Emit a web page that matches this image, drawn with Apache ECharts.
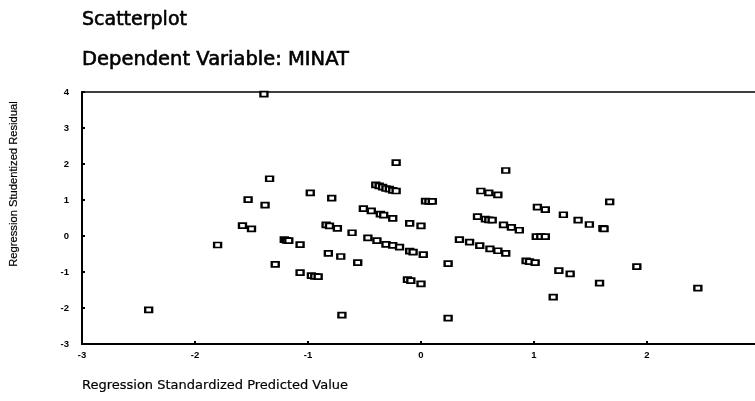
<!DOCTYPE html>
<html>
<head>
<meta charset="utf-8">
<script src="https://cdn.jsdelivr.net/npm/echarts@6/dist/echarts.min.js"></script>
<style>html,body{margin:0;padding:0;background:#fff;}#c{width:755px;height:401px;}</style>
</head>
<body>
<div id="c"></div>
<script>
var titleText = "Scatterplot";
var subtitleText = "Dependent Variable: MINAT";
var xAxisName = "Regression Standardized Predicted Value";
var yAxisName = "Regression Studentized Residual";
var xTicks = [-3, -2, -1, 0, 1, 2, 3];
var yTicks = [-3, -2, -1, 0, 1, 2, 3, 4];

var xValues = [
 -1.39,-1.34,-0.98,-1.53,-1.38,-1.58,-1.50,-1.80,-1.21,-1.19,-1.17,-1.07,-1.29,-1.07,-2.41,
 -0.22,-0.40,-0.37,-0.34,-0.31,-0.28,-0.25,-0.22,0.04,0.07,0.10,
 -0.79,-0.51,-0.44,-0.36,-0.33,-0.25,-0.10,0.00,-0.84,-0.81,-0.74,-0.61,
 -0.47,-0.39,-0.31,-0.25,-0.19,-0.10,-0.07,0.02,-0.82,-0.71,-0.56,
 -0.97,-0.94,-0.91,-0.12,-0.09,0.00,-0.70,0.24,0.24,
 0.75,0.53,0.60,0.68,1.03,1.10,1.26,1.39,1.49,1.61,1.62,1.67,
 0.50,0.57,0.60,0.63,0.73,0.80,0.87,1.02,1.06,1.10,
 0.34,0.43,0.52,0.61,0.68,0.75,0.93,0.96,1.01,1.22,1.32,1.17,1.91,1.58,2.45
];
var yValues = [
 3.94,1.59,1.20,1.01,0.86,0.29,0.20,-0.25,-0.10,-0.12,-0.13,-0.24,-0.79,-1.02,-2.05,
 2.04,1.42,1.39,1.36,1.32,1.30,1.27,1.25,0.97,0.96,0.96,
 1.05,0.76,0.70,0.61,0.58,0.49,0.35,0.28,0.31,0.28,0.21,0.09,
 -0.05,-0.13,-0.23,-0.26,-0.31,-0.42,-0.45,-0.52,-0.48,-0.57,-0.74,
 -1.10,-1.12,-1.13,-1.21,-1.24,-1.33,-2.20,-0.77,-2.28,
 1.82,1.25,1.20,1.14,0.80,0.73,0.59,0.44,0.32,0.21,0.20,0.95,
 0.54,0.47,0.45,0.44,0.31,0.24,0.16,-0.02,-0.02,-0.02,
 -0.10,-0.17,-0.27,-0.36,-0.41,-0.48,-0.69,-0.71,-0.74,-0.96,-1.05,-1.70,-0.85,-1.31,-1.45
];

var points = xValues.map(function (x, i) { return [x, yValues[i]]; });

var chart = echarts.init(document.getElementById('c'), null, {renderer: 'canvas'});
chart.setOption({
  animation: false,
  backgroundColor: '#ffffff',
  title: [
    {text: titleText, left: 82, top: 11, padding: 0,
     textStyle: {fontFamily: 'DejaVu Sans', fontSize: 19, fontWeight: 'normal', color: '#000', textBorderColor: '#000', textBorderWidth: 0.6}},
    {text: subtitleText, left: 82, top: 50, padding: 0,
     textStyle: {fontFamily: 'DejaVu Sans', fontSize: 19.5, fontWeight: 'normal', color: '#000', textBorderColor: '#000', textBorderWidth: 0.6}}
  ],
  grid: {left: 82, top: 92, width: 678, height: 252, show: true, borderColor: '#000', borderWidth: 1.5,
         containLabel: false, outerBoundsMode: 'none'},
  xAxis: {
    type: 'value', min: xTicks[0], max: xTicks[xTicks.length - 1], interval: 1,
    splitLine: {show: false},
    axisLine: {show: true, onZero: false, lineStyle: {color: '#000', width: 2}},
    axisTick: {show: true, inside: true, length: 3, lineStyle: {color: '#000', width: 2}},
    axisLabel: {showMaxLabel: false, margin: 6, color: '#000', fontFamily: 'Liberation Sans', fontSize: 9.5, fontWeight: 'bold'}
  },
  yAxis: {
    type: 'value', min: yTicks[0], max: yTicks[yTicks.length - 1], interval: 1,
    splitLine: {show: false},
    axisLine: {show: true, onZero: false, lineStyle: {color: '#000', width: 2}},
    axisTick: {show: true, inside: true, length: 3, lineStyle: {color: '#000', width: 2}},
    axisLabel: {margin: 13, color: '#000', fontFamily: 'Liberation Sans', fontSize: 9.5, fontWeight: 'bold'}
  },
  graphic: [
    {type: 'text', x: 14, y: 184, rotation: Math.PI / 2,
     style: {text: yAxisName, fontFamily: 'Liberation Sans', fontSize: 11.2, fill: '#000', align: 'center', verticalAlign: 'middle', stroke: '#000', lineWidth: 0.2}},
    {type: 'text', x: 82, y: 386,
     style: {text: xAxisName, fontFamily: 'DejaVu Sans', fontSize: 13, fill: '#000', align: 'left', verticalAlign: 'middle', stroke: '#000', lineWidth: 0.2}}
  ],
  series: [{
    type: 'scatter',
    data: points,
    symbol: 'rect',
    symbolSize: [7, 5],
    itemStyle: {color: '#fff', borderColor: '#000', borderWidth: 2, opacity: 1}
  }]
});
</script>
</body>
</html>
